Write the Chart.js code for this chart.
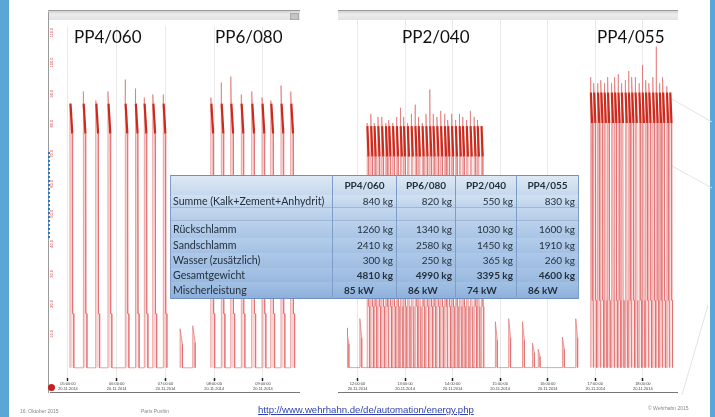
<!DOCTYPE html>
<html>
<head>
<meta charset="utf-8">
<script src="https://cdn.jsdelivr.net/npm/chart.js@4.4.1/dist/chart.umd.min.js"></script>
<style>
body { margin: 0; background: #fff; }
#slide { position: relative; width: 715px; height: 417px; overflow: hidden; background: #fff; font-family: 'Lato', 'Open Sans', sans-serif; }
.abs { position: absolute; }
.blue { background: #5aa6d6; top: 0; height: 417px; }
.topbar { height: 9px; background: linear-gradient(#d0d0d0, #ececec 35%, #e2e2e2); border-top: 1px solid #9a9a9a; }
canvas { position: absolute; }
.title { font-size: 17px; line-height: 18px; color: #111; white-space: nowrap; z-index: 3; }
#tab { left: 170px; top: 175px; width: 408px; table-layout: fixed; border-collapse: collapse; z-index: 4; font-size: 10px; color: #24303c; border: 1px solid #6e8fbf; }
#tab td { padding: 0 3px; border-left: 1px solid #7d9cc8; border-right: 1px solid #7d9cc8; white-space: nowrap; overflow: hidden; }
#tab td.lab { font-size: 10.6px; padding-left: 2px; }
#tab td.num { text-align: right; }
#tab td.kw { text-align: left; padding-left: 11px; font-weight: bold; }
#tab tr.hd td { font-weight: bold; text-align: center; }
#tab tr.bold td.num { font-weight: bold; }
.foot { font-family: 'Liberation Sans', sans-serif; font-size: 5px; color: #888; white-space: nowrap; }
</style>
</head>
<body>
<div id="slide">
  <div class="abs blue" style="left:0;width:9px"></div>
  <div class="abs blue" style="left:710px;width:5px"></div>

  <svg class="abs" style="left:600px;top:80px" width="115" height="330">
    <line x1="70" y1="18" x2="112" y2="42" stroke="#e4e4e4" stroke-width="1"/>
    <line x1="72" y1="86" x2="112" y2="108" stroke="#e4e4e4" stroke-width="1"/>
    <line x1="108" y1="225" x2="82" y2="315" stroke="#e4e4e4" stroke-width="1"/>
  </svg>

  <div class="abs topbar" style="left:48px;top:10px;width:252px"></div>
  <div class="abs" style="left:290px;top:13px;width:7px;height:5px;background:#c4c4c4;border:1px solid #aaa"></div>
  <div class="abs topbar" style="left:338px;top:10px;width:340px"></div>

  <canvas id="left" width="252" height="372" style="left:48px;top:20px"></canvas>
  <canvas id="right" width="340" height="372" style="left:338px;top:20px"></canvas>

  <div class="abs" style="left:48px;top:12px;width:1px;height:381px;background:#9a9a9a"></div>
  <div class="abs" style="left:50px;top:392px;width:250px;height:1px;background:#777"></div>
  <div class="abs" style="left:338px;top:392px;width:340px;height:1px;background:#777"></div>
  <div class="abs" style="left:48px;top:384px;width:7px;height:7px;border-radius:50%;background:#c42222"></div>
  <div class="abs" style="left:48px;top:152px;width:0;height:86px;border-left:2px dotted #1f7bd4"></div>

  <div class="abs title" id="t0" style="left:74px;top:28px"></div>
  <div class="abs title" id="t1" style="left:215px;top:28px"></div>
  <div class="abs title" id="t2" style="left:402px;top:28px"></div>
  <div class="abs title" id="t3" style="left:597px;top:28px"></div>

  <table id="tab" class="abs"></table>

  <div class="abs foot" style="left:20px;top:408px">16. Oktober 2015</div>
  <div class="abs foot" style="left:141px;top:408px">Paris Pushin</div>
  <div class="abs" style="left:258px;top:404px;font-family:'Liberation Sans',sans-serif;font-size:9.6px;color:#2b3fb0;text-decoration:underline;white-space:nowrap">http://www.wehrhahn.de/de/automation/energy.php</div>
  <div class="abs foot" style="left:648px;top:405px">© Wehrhahn 2015</div>
</div>

<script>
// Beschriftung
const titles = ['PP4/060', 'PP6/080', 'PP2/040', 'PP4/055'];
const dateLabel = '20.11.2014';

// Tabelle
const rowLabels = ['Summe (Kalk+Zement+Anhydrit)', '', 'Rückschlamm', 'Sandschlamm', 'Wasser (zusätzlich)', 'Gesamtgewicht', 'Mischerleistung'];
const summe = [840, 820, 550, 830];
const rueckschlamm = [1260, 1340, 1030, 1600];
const sandschlamm = [2410, 2580, 1450, 1910];
const wasser = [300, 250, 365, 260];
const gesamt = [4810, 4990, 3395, 4600];
const leistung = [85, 86, 74, 86];

// Zeitachsen (Stunden)
const leftRange = [4.59, 9.76];
const rightRange = [11.59, 18.74];

// Mischvorgaenge: Startzeit (h) und Spitzenwert (kW)
const pp4060Start = [5.04, 5.31, 5.57, 5.82, 6.17, 6.38, 6.56, 6.74, 6.95];
const pp4060Peak = [88, 92, 89, 92, 96, 93, 90, 91, 91];
const pp4060Level = 83, pp4060Low = 18;

const pp6080Start = [7.93, 8.14, 8.34, 8.55, 8.77, 8.98, 9.16, 9.37, 9.57];
const pp6080Peak = [90, 95, 97, 91, 92, 90, 89, 94, 92];
const pp6080Level = 83, pp6080Low = 18;

const pp2040Start = [12.20, 12.28, 12.35, 12.43, 12.51, 12.59, 12.66, 12.74, 12.82, 12.90, 12.97, 13.05, 13.13, 13.21, 13.28, 13.36,
                     13.44, 13.52, 13.59, 13.67, 13.75, 13.83, 13.90, 13.98, 14.06, 14.14, 14.21, 14.29, 14.37, 14.45, 14.52, 14.60];
const pp2040Peak = [80, 83, 80, 82, 82, 80, 81, 80, 82, 85, 82, 80, 83, 86, 82, 80,
                    83, 91, 83, 82, 84, 83, 81, 83, 81, 83, 82, 81, 84, 82, 81, 79];
const pp2040Level = 74, pp2040Low = 20;

const pp4055Start = [16.90, 16.97, 17.05, 17.12, 17.19, 17.26, 17.34, 17.41, 17.48, 17.55, 17.63, 17.70,
                     17.77, 17.84, 17.92, 17.99, 18.06, 18.13, 18.21, 18.28, 18.35, 18.42, 18.50, 18.57];
const pp4055Peak = [95, 93, 93, 94, 93, 95, 93, 95, 96, 93, 94, 97, 95, 95, 93, 99, 94, 93, 95, 105, 93, 95, 92, 86];
const pp4055Level = 85, pp4055Low = 22;

// kleine Ausschlaege zwischen den Chargen
const smallLeftStart = [7.30, 7.56];
const smallLeftPeak = [13, 14];
const smallRightStart = [11.78, 12.05, 14.90, 15.18, 15.47, 15.68, 15.80, 16.31, 16.59];
const smallRightPeak = [13, 16, 15, 16, 15, 8, 6, 10, 16];

document.getElementById('t0').textContent = titles[0];
document.getElementById('t1').textContent = titles[1];
document.getElementById('t2').textContent = titles[2];
document.getElementById('t3').textContent = titles[3];

// Tabelle aufbauen
let tab = document.getElementById('tab');
const colW = [162, 64, 59, 61, 62];
let html = '<colgroup>';
colW.forEach(w => html += '<col style="width:' + w + 'px">');
html += '</colgroup>';
html += '<tr class="hd" style="height:19px;background:linear-gradient(#dde8f4,#c6d8ed)"><td></td>';
titles.forEach(t => html += '<td>' + t + '</td>');
html += '</tr>';
const rowData = [summe, null, rueckschlamm, sandschlamm, wasser, gesamt, leistung];
const rowH = [13, 13, 17, 15, 15, 14, 17];
const rowBg = [
    'linear-gradient(#d2e1f2,#bdd3ec)', 'linear-gradient(#c3d7ee,#b6cdea)', 'linear-gradient(#bcd2ec,#a8c4e6)',
    'linear-gradient(#b4cdea,#a3c0e4)', 'linear-gradient(#adc8e8,#9ebde2)', 'linear-gradient(#a8c4e6,#97b8e0)',
    'linear-gradient(#a2c0e4,#8cb0dc)'];
rowLabels.forEach((lab, r) => {
    let cls = r >= 5 ? 'bold' : '';
    html += '<tr class="' + cls + '" style="height:' + rowH[r] + 'px;background:' + rowBg[r] + (r < 2 ? ';border-bottom:1px solid #9fb8d8' : '') + '"><td class="lab">' + lab + '</td>';
    for (let i = 0; i < 4; i++) {
        let v = '';
        let c = 'num';
        if (rowData[r]) {
            if (r === 6) { v = rowData[r][i] + ' kW'; c = 'kw'; }
            else v = rowData[r][i] + ' kg';
        }
        html += '<td class="' + c + '">' + v + '</td>';
    }
    html += '</tr>';
});
tab.innerHTML = html;

// Datenpunkte fuer einen Mischzyklus
function pulses(starts, peaks, level, low, width) {
    let pts = [];
    starts.forEach((t, i) => {
        pts.push({x: t, y: 0}, {x: t, y: peaks[i]}, {x: t + width * 0.15, y: level + 5},
                 {x: t + width * 0.6, y: level - 5}, {x: t + width * 0.7, y: low},
                 {x: t + width, y: low}, {x: t + width, y: 0});
    });
    return pts;
}
function spikes(starts, peaks, width) {
    let pts = [];
    starts.forEach((t, i) => {
        pts.push({x: t, y: 0}, {x: t, y: peaks[i]}, {x: t + width * 0.5, y: peaks[i] * 0.8},
                 {x: t + width, y: peaks[i] * 0.6}, {x: t + width, y: 0});
    });
    return pts;
}

const edgeRed = 'rgba(225,105,105,0.62)';
const darkRed = '#cc2a1c';
const fillRed = 'rgba(238,140,140,0.38)';

function pulseSet(data) {
    return {
        data: data,
        borderColor: edgeRed,
        borderWidth: 1,
        backgroundColor: fillRed,
        fill: 'origin',
        pointRadius: 0,
        tension: 0,
        segment: {
            borderColor: c => c.p0DataIndex % 7 === 2 ? darkRed : edgeRed,
            borderWidth: c => c.p0DataIndex % 7 === 2 ? 2.2 : 1
        }
    };
}
function spikeSet(data) {
    return { data: data, borderColor: edgeRed, borderWidth: 1, backgroundColor: fillRed,
             fill: 'origin', pointRadius: 0, tension: 0 };
}

function hourLabel(v) {
    let h = Math.round(v);
    return [(h < 10 ? '0' : '') + h + ':00:00', dateLabel];
}

function options(range, showY) {
    return {
        responsive: false,
        animation: false,
        layout: { padding: 0 },
        plugins: { legend: { display: false }, tooltip: { enabled: false } },
        scales: {
            x: {
                type: 'linear',
                min: range[0],
                max: range[1],
                afterFit: s => { s.height = 14; },
                grid: { color: '#e9e9e9', tickColor: '#222', tickLength: 3, tickWidth: 1.5 },
                border: { display: false },
                ticks: { stepSize: 1, includeBounds: false, maxRotation: 0, padding: 0,
                         font: { size: 4, family: 'Liberation Sans', lineHeight: 1.35 }, color: '#444',
                         callback: v => hourLabel(v) }
            },
            y: {
                display: showY,
                min: -3.4,
                max: 113.7,
                afterFit: s => { s.width = 0; },
                grid: { display: false },
                border: { display: false },
                ticks: { stepSize: 10, includeBounds: false, mirror: true, padding: 4,
                         minRotation: 90, maxRotation: 90,
                         font: { size: 4, family: 'Liberation Sans' }, color: '#d03a3a',
                         callback: v => v <= 0 ? '' : v.toFixed(1) }
            }
        }
    };
}

new Chart(document.getElementById('left'), {
    type: 'line',
    data: {
        datasets: [
            pulseSet(pulses(pp4060Start, pp4060Peak, pp4060Level, pp4060Low, 0.08)),
            spikeSet(spikes(smallLeftStart, smallLeftPeak, 0.05)),
            pulseSet(pulses(pp6080Start, pp6080Peak, pp6080Level, pp6080Low, 0.08))
        ]
    },
    options: options(leftRange, true)
});

new Chart(document.getElementById('right'), {
    type: 'line',
    data: {
        datasets: [
            spikeSet(spikes(smallRightStart, smallRightPeak, 0.04)),
            pulseSet(pulses(pp2040Start, pp2040Peak, pp2040Level, pp2040Low, 0.055)),
            pulseSet(pulses(pp4055Start, pp4055Peak, pp4055Level, pp4055Low, 0.055))
        ]
    },
    options: options(rightRange, false)
});
</script>
</body>
</html>
